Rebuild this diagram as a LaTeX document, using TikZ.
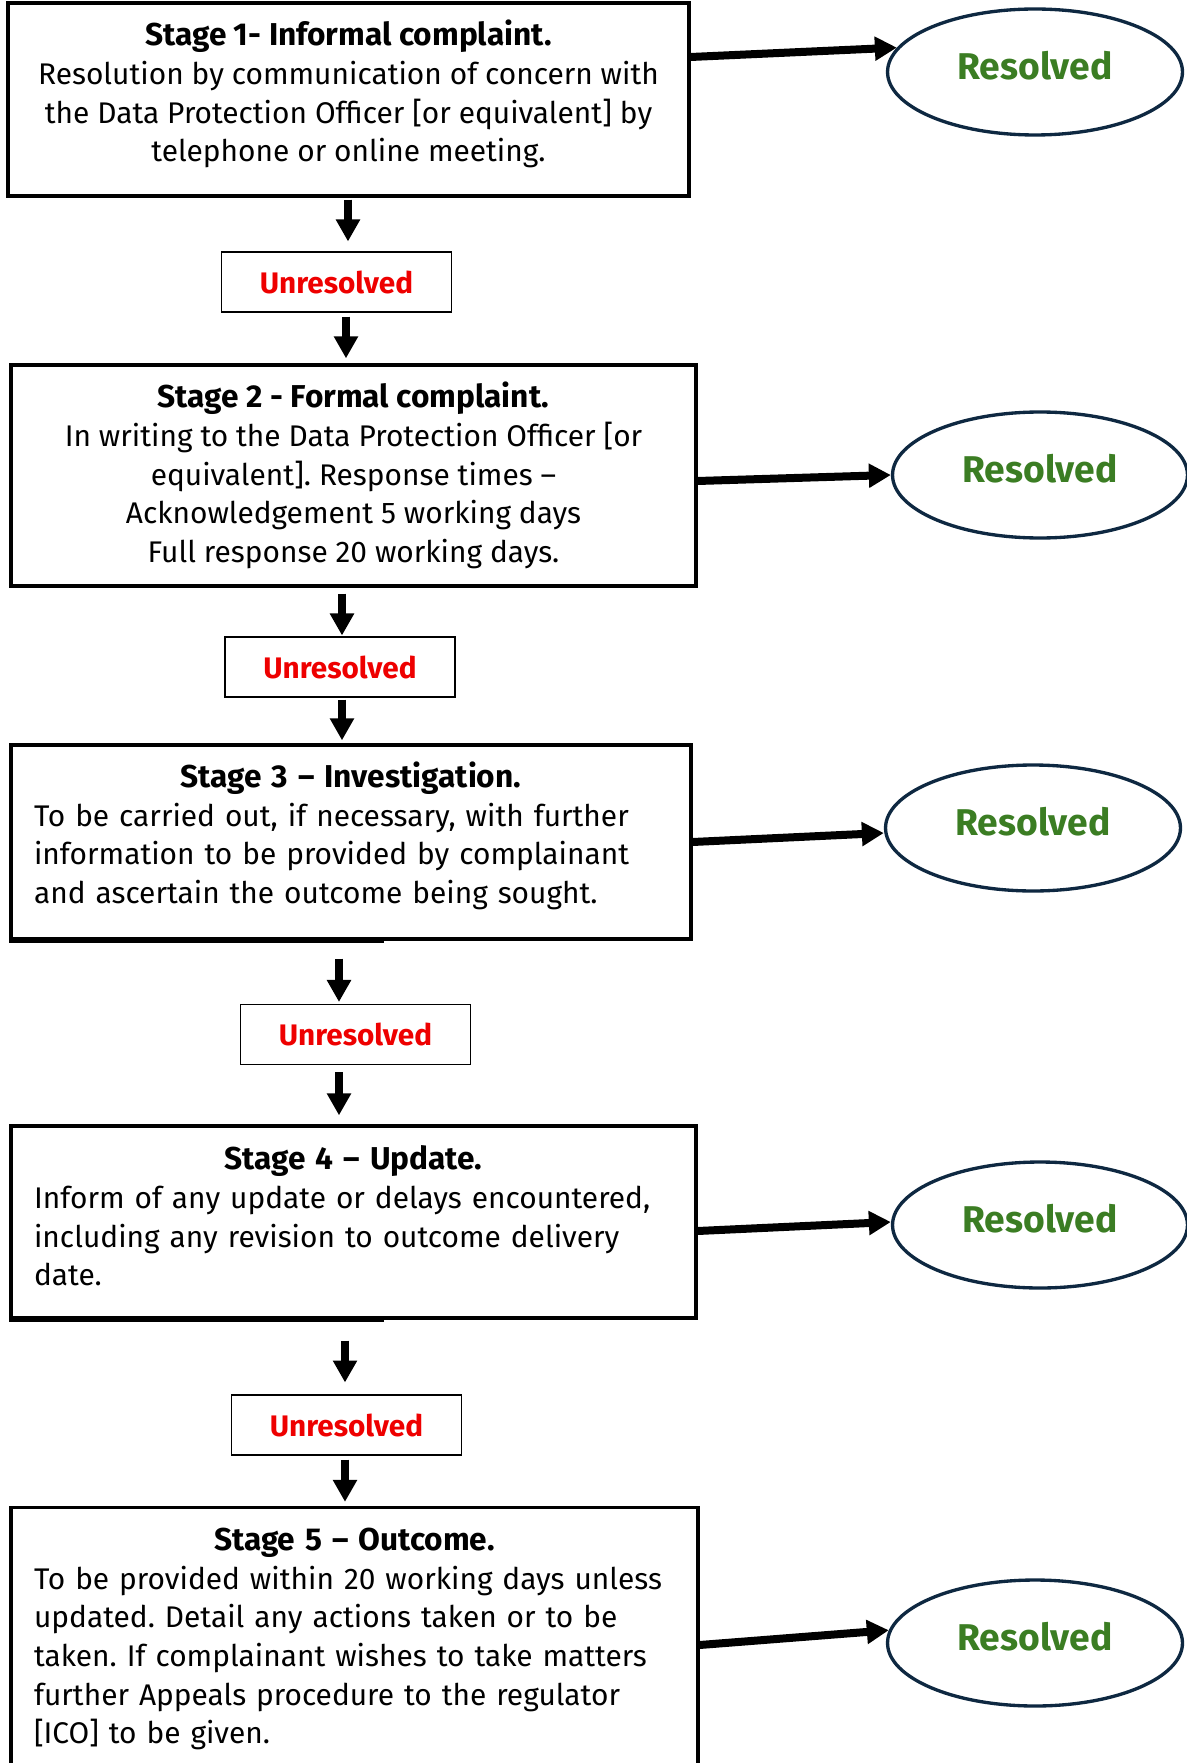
\documentclass[tikz,border=0pt]{standalone}
\usepackage{fontspec}
\setmainfont{Fira Sans}
\usetikzlibrary{shapes.geometric,arrows.meta}
\definecolor{resgreen}{HTML}{3B7D23}
\definecolor{unred}{HTML}{EE0000}
\definecolor{ovalblue}{HTML}{0E2841}
\newcommand{\stagehead}[1]{{\fontsize{18}{22}\selectfont\bfseries #1}}
\newcommand{\lift}{\par\kern0.24cm\hrule height 0pt width 0pt}
\frenchspacing

\begin{document}
\begin{tikzpicture}[x=0.02cm,y=-0.02cm,
	stagebox/.style={draw, line width=1.9pt, inner xsep=0.46cm, inner ysep=0pt, align=center, font=\fontsize{17}{22}\selectfont},
	stageleft/.style={stagebox, align=left, text width=#1},
	unres/.style={draw, line width=0.6pt, minimum width=4.6cm, minimum height=1.2cm, text=unred, font=\fontsize{16.9}{20}\selectfont\bfseries},
	resolved/.style={draw=ovalblue, ellipse, line width=1.9pt, minimum width=5.9cm, minimum height=2.52cm, inner sep=0pt, text height=0.6cm, text depth=0.31cm, text=resgreen, font=\fontsize{21.2}{24}\selectfont\bfseries},
	down/.style={-{Triangle[length=0.44cm,width=0.46cm]}, line width=0.16cm},
	across/.style={-{Triangle[length=0.44cm,width=0.46cm]}, line width=0.16cm}]
			\useasboundingbox (0,0) rectangle (1186,1763);
			% stages
			\node	(s1) at (348.5,99.5) [stagebox, text depth=0.34cm, minimum width=13.62cm, minimum height=3.86cm] {\stagehead{Stage 1- Informal complaint.}\\ Resolution by communication of concern with\\ the Data Protection Officer [or equivalent] by\\ telephone or online meeting.};
			\node	(s2) at (353.5,475.5) [stagebox, minimum width=13.7cm, minimum height=4.42cm] {\stagehead{Stage 2 - Formal complaint.}\\ In writing to the Data Protection Officer [or\\ equivalent]. Response times –\\ Acknowledgement 5 working days\\ Full response 20 working days.};
			\node	(s3) at (351,842) [stageleft=12.68cm, minimum height=3.88cm] {{\centering\stagehead{Stage 3 – Investigation.}\par}To be carried out, if necessary, with further\\ information to be provided by complainant\\ and ascertain the outcome being sought.\lift};
			\node	(s4) at (353.5,1222) [stageleft=12.78cm, minimum height=3.84cm] {{\centering\stagehead{Stage 4 – Update.}\par}Inform of any update or delays encountered,\\ including any revision to outcome delivery\\ date.\lift};
			\node	(s5) at (354.5,1645) [stageleft=12.82cm, minimum height=5.5cm] {{\centering\stagehead{Stage 5 – Outcome.}\par}To be provided within 20 working days unless\\ updated. Detail any actions taken or to be\\ taken. If complainant wishes to take matters\\ further Appeals procedure to the regulator\\ {}[ICO] to be given.\lift};
			% heavier bottom edge on stages 3 and 4
			\draw[line width=0.07cm] ([yshift=-0.02cm]s3.south west) -- ++(375,0);
			\draw[line width=0.07cm] ([yshift=-0.02cm]s4.south west) -- ++(375,0);
			
			% unresolved
			\node	(u1) at (336.5,282) [unres] {Unresolved};
			\node	(u2) at (340,667) [unres] {Unresolved};
			\node	(u3) at (355.5,1034.5) [unres] {Unresolved};
			\node	(u4) at (346.5,1425) [unres] {Unresolved};
			
			% resolved
			\node	(r1) at (1035,72) [resolved] {Resolved};
			\node	(r2) at (1040,475) [resolved] {Resolved};
			\node	(r3) at (1033,828) [resolved] {Resolved};
			\node	(r4) at (1040,1225) [resolved] {Resolved};
			\node	(r5) at (1035,1643) [resolved] {Resolved};
			
			\draw 
			([xshift=0.23cm]u1.north |- s1.south) edge[down, shorten <=0.04cm, shorten >=0.2cm] ([xshift=0.23cm]u1.north)
			([xshift=0.19cm]u1.south) edge[down, shorten <=0.08cm, shorten >=0.1cm] ([xshift=0.19cm]u1.south |- s2.north)
			([xshift=0.04cm]u2.north |- s2.south) edge[down, shorten <=0.12cm, shorten >=0.02cm] ([xshift=0.04cm]u2.north)
			([xshift=0.04cm]u2.south) edge[down, shorten <=0.04cm, shorten >=0.06cm] ([xshift=0.04cm]u2.south |- s3.north)
			([xshift=-0.33cm]u3.north |- s3.south) edge[down, shorten <=0.36cm, shorten >=0.04cm] ([xshift=-0.33cm]u3.north)
			([xshift=-0.33cm]u3.south) edge[down, shorten <=0.14cm, shorten >=0.18cm] ([xshift=-0.33cm]u3.south |- s4.north)
			([xshift=-0.03cm]u4.north |- s4.south) edge[down, shorten <=0.42cm, shorten >=0.24cm] ([xshift=-0.03cm]u4.north)
			([xshift=-0.03cm]u4.south) edge[down, shorten <=0.08cm, shorten >=0.08cm] ([xshift=-0.03cm]u4.south |- s5.north)
			;
			\draw 
			([yshift=0.85cm]s1.east) edge[across] (r1.170)
			([yshift=-0.11cm]s2.east) edge[across] (r2.west)
			(s3.east) edge[across] ([yshift=-0.1cm]r3.west)
			([yshift=-0.18cm]s4.east) edge[across] ([yshift=0.06cm]r4.west)
			(s5.east) edge[across] (r5.175)
			;
		\end{tikzpicture}
\end{document}
